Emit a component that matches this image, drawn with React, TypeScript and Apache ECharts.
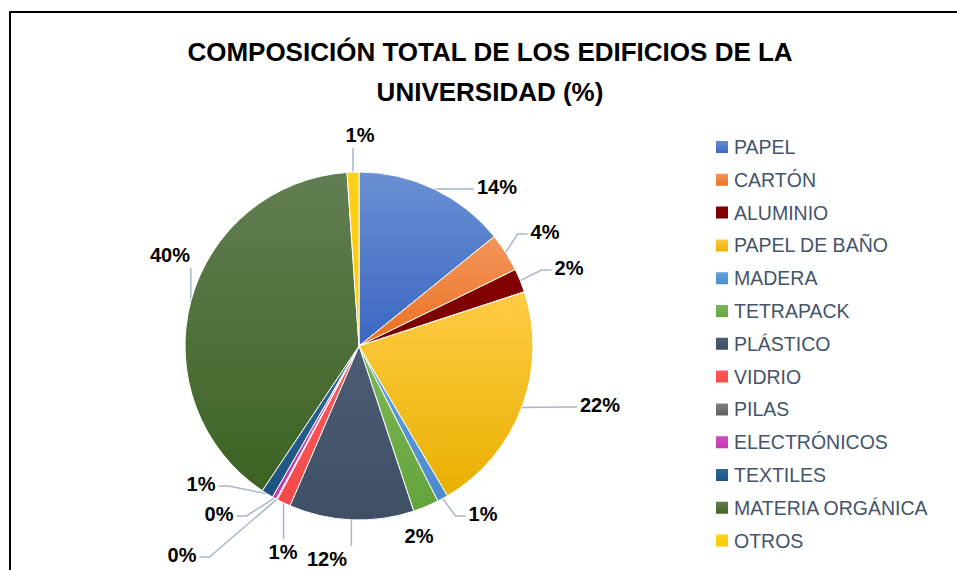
import React, { useEffect, useRef } from 'react';
import * as echarts from 'echarts';

const categories = [
  'PAPEL', 'CARTÓN', 'ALUMINIO', 'PAPEL DE BAÑO', 'MADERA', 'TETRAPACK', 'PLÁSTICO',
  'VIDRIO', 'PILAS', 'ELECTRÓNICOS', 'TEXTILES', 'MATERIA ORGÁNICA', 'OTROS',
];
const values = [14.2, 3.6, 2.2, 21.6, 1.0, 2.4, 11.6, 1.3, 0.1, 0.4, 1.1, 39.6, 1.1];

const colorsTop = [
  '#6A8FD4', '#F4965C', '#860000', '#FFCB45', '#66A4DB', '#7DB858', '#4B5C74',
  '#FF5C5C', '#808080', '#D04CC0', '#2C69A0', '#627E53', '#FFD11A',
];
const colorsBottom = [
  '#3A67C1', '#EA7020', '#780000', '#E9B000', '#4A8ACB', '#64A33C', '#3F4F65',
  '#F54848', '#5E5E5E', '#C03AAE', '#1C527F', '#3C6322', '#FFC800',
];

const titleText = 'COMPOSICIÓN TOTAL DE LOS EDIFICIOS DE LA\nUNIVERSIDAD (%)';

// label text centres (layout only)
const labelCenters: [number, number][] = [
  [497, 187], [545, 232], [569, 268], [600, 405], [483, 514], [419, 536], [327, 559],
  [283, 552], [182, 555], [219, 514], [201, 484], [170, 255], [360, 135],
];
const noLeader = ['TETRAPACK'];

export default function App() {
  const ref = useRef<HTMLDivElement>(null);
  useEffect(() => {
    if (!ref.current) return;
    const chart = echarts.init(ref.current, undefined, { renderer: 'svg' });
    const font = '"Liberation Sans", Arial, sans-serif';
    const data = categories.map((name, i) => ({
      name,
      value: values[i],
      itemStyle: {
        color: new echarts.graphic.LinearGradient(0, 0, 0, 1, [
          { offset: 0, color: colorsTop[i] },
          { offset: 1, color: colorsBottom[i] },
        ]),
      },
      labelLine: { show: !noLeader.includes(name) },
    }));
    chart.setOption({
      animation: false,
      backgroundColor: '#ffffff',
      graphic: [
        {
          type: 'rect',
          shape: { x: 10, y: 12, width: 1000, height: 600 },
          style: { fill: 'none', stroke: '#000000', lineWidth: 2 },
          silent: true,
        },
        {
          type: 'text',
          x: 490,
          y: 32,
          style: {
            text: titleText,
            align: 'center',
            verticalAlign: 'top',
            fontFamily: font,
            fontSize: 26,
            fontWeight: 'bold',
            lineHeight: 40,
            fill: '#000000',
          },
        },
      ],
      legend: {
        orient: 'vertical',
        left: 714,
        top: 137,
        padding: 0,
        itemWidth: 14,
        itemHeight: 14,
        itemGap: 12.8,
        icon: 'rect',
        data: categories,
        textStyle: {
          fontFamily: font,
          fontSize: 19.5,
          lineHeight: 20,
          color: '#44546A',
          padding: [0, 0, 0, 0],
        },
      },
      series: [
        {
          type: 'pie',
          center: [359, 346],
          radius: 174,
          startAngle: 90,
          clockwise: true,
          avoidLabelOverlap: false,
          data,
          itemStyle: { borderColor: '#ffffff', borderWidth: 1 },
          label: {
            show: true,
            position: 'outside',
            formatter: (p: any) => `${Math.round(p.value)}%`,
            fontFamily: font,
            fontSize: 20,
            fontWeight: 'bold',
            color: '#000000',
          },
          labelLine: {
            show: true,
            length: 10,
            length2: 10,
            lineStyle: { color: '#A9B6C9', width: 1.5 },
          },
          labelLayout: (p: any) => {
            const i = p.dataIndex;
            const [cx, cy] = labelCenters[i];
            const w = p.labelRect.width;
            const h = p.labelRect.height;
            const res: any = { x: cx, y: cy, align: 'center', verticalAlign: 'middle' };
            const pts = p.labelLinePoints;
            if (pts && pts[0]) {
              const s = pts[0];
              const pad = 3;
              const l = cx - w / 2 - pad;
              const r = cx + w / 2 + pad;
              const t = cy - h / 2 - pad;
              const b = cy + h / 2 + pad;
              const dx = s[0] < l ? l - s[0] : s[0] > r ? s[0] - r : 0;
              const dy = s[1] < t ? t - s[1] : s[1] > b ? s[1] - b : 0;
              if (dy > 2 * dx) {
                const ey = s[1] < t ? t : b;
                res.labelLinePoints = [[s[0], s[1]], [s[0], ey], [s[0], ey]];
              } else {
                const ex = s[0] < l ? l : r;
                const elbow = s[0] < l ? ex - 10 : ex + 10;
                res.labelLinePoints = [[s[0], s[1]], [elbow, cy + 2], [ex, cy + 2]];
              }
            }
            return res;
          },
        },
      ],
    });
    return () => chart.dispose();
  }, []);
  return (
    <div
      ref={ref}
      style={{ position: 'fixed', left: 0, top: 0, width: 957, height: 570, background: '#fff' }}
    />
  );
}
